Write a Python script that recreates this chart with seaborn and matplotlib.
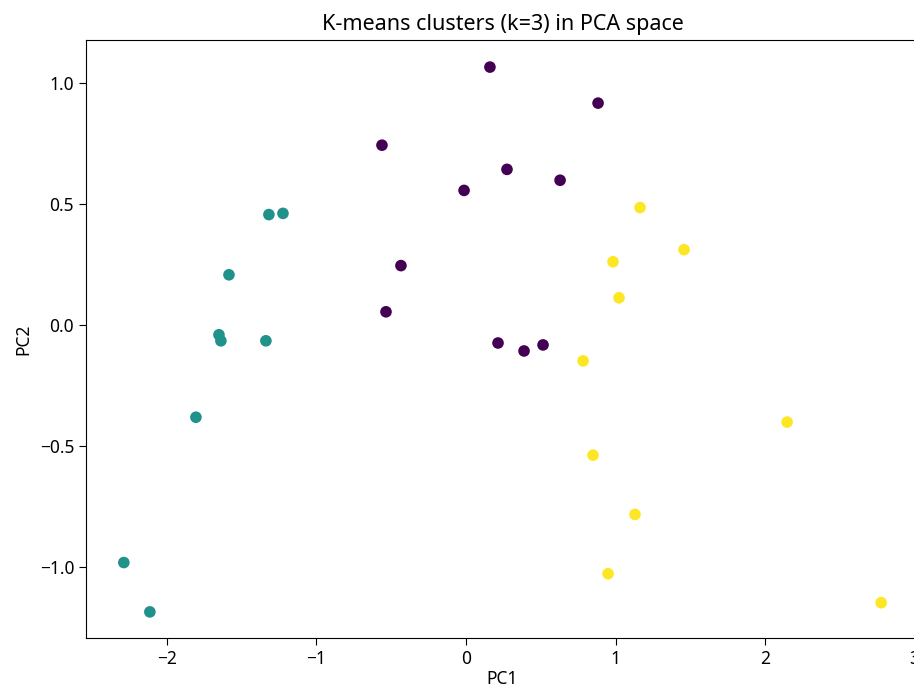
import matplotlib
matplotlib.use("Agg")
import matplotlib.pyplot as plt
import seaborn as sns
import pandas as pd

pc1_c0 = [0.16, 0.883, -0.562, 0.274, -0.013, 0.629, -0.435, -0.535, 0.214, 0.388, 0.515]
pc2_c0 = [1.066, 0.917, 0.743, 0.643, 0.556, 0.598, 0.245, 0.054, -0.075, -0.108, -0.083]

pc1_c1 = [-1.318, -1.224, -1.585, -1.652, -1.639, -1.338, -1.806, -2.288, -2.114]
pc2_c1 = [0.456, 0.461, 0.207, -0.041, -0.066, -0.066, -0.382, -0.983, -1.187]

pc1_c2 = [1.164, 1.458, 0.983, 1.023, 0.783, 2.147, 0.849, 1.130, 0.950, 2.776]
pc2_c2 = [0.485, 0.311, 0.261, 0.112, -0.149, -0.402, -0.539, -0.784, -1.029, -1.149]

df = pd.DataFrame({
    "PC1": pc1_c0 + pc1_c1 + pc1_c2,
    "PC2": pc2_c0 + pc2_c1 + pc2_c2,
    "cluster": [0] * len(pc1_c0) + [1] * len(pc1_c1) + [2] * len(pc1_c2),
})

plt.rcParams['font.family'] = ['Noto Sans', 'DejaVu Sans']

fig = plt.figure(figsize=(9.14, 6.88), dpi=100)
ax = fig.add_axes([86 / 914, 50 / 688, 833 / 914, 598 / 688])
sns.scatterplot(data=df, x="PC1", y="PC2", hue="cluster", palette="viridis",
                s=70, linewidth=0, legend=False, ax=ax)
ax.set_title("K-means clusters (k=3) in PCA space", fontsize=15.5, pad=7)
ax.set_xlabel("PC1", fontsize=12.5, labelpad=1.5)
ax.set_ylabel("PC2", fontsize=12.5, labelpad=5)
ax.tick_params(labelsize=12.5, length=5)
ax.set_xticks([-2, -1, 0, 1, 2, 3])
ax.set_yticks([-1.0, -0.5, 0.0, 0.5, 1.0])
ax.set_xlim(-2.541, 3.029)
ax.set_ylim(-1.295, 1.178)
fig.savefig("out.png", dpi=100)
